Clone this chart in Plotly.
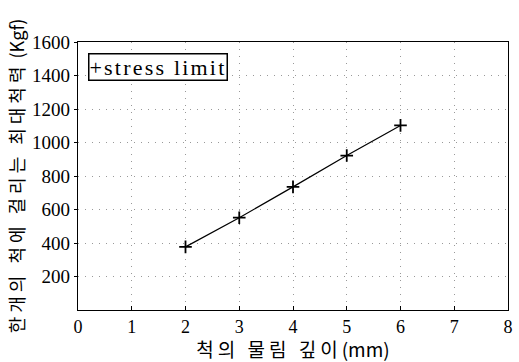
import plotly.graph_objects as go

depth_mm = [2, 3, 4, 5, 6]
max_force_kgf = [377, 551, 735, 922, 1102]
x_ticks = [0, 1, 2, 3, 4, 5, 6, 7, 8]
y_ticks = [200, 400, 600, 800, 1000, 1200, 1400, 1600]
series_name = "stress limit"
x_title_kr, x_title_unit = "척의 물림 깊이", "(mm)"
y_title_kr, y_title_unit = "한개의 척에 걸리는 최대척력", " (Kgf)"

serif = "Liberation Serif, Times New Roman, DejaVu Serif, serif"
kr = "Noto Sans CJK KR, sans-serif"


def spaced(text, px):
    return '<span style="letter-spacing:%spx">%s</span>' % (px, text)


fig = go.Figure()
fig.add_trace(go.Scatter(
    x=depth_mm, y=max_force_kgf, mode="lines+markers", name=series_name,
    line=dict(color="black", width=1.2),
    marker=dict(symbol="cross-thin", size=9, line=dict(color="black", width=1.8)),
    showlegend=False,
))

fig.add_annotation(
    xref="paper", yref="paper", x=0.023, y=0.96, xanchor="left", yanchor="top",
    text=spaced("+" + series_name, 2.2), showarrow=False,
    font=dict(family=serif, size=22, color="black"),
    bordercolor="black", borderwidth=1.5, borderpad=0, bgcolor="white",
)

fig.update_layout(
    width=519, height=362,
    margin=dict(l=78, r=6, t=42, b=52),
    paper_bgcolor="white", plot_bgcolor="white",
    xaxis=dict(
        range=[0, 8], tickvals=x_ticks, ticktext=[str(v) for v in x_ticks],
        showline=True, linecolor="black", linewidth=1.3, mirror=True,
        ticks="inside", ticklen=4, tickcolor="black",
        showgrid=True, gridcolor="#999999", griddash="1px,6px", gridwidth=1,
        zeroline=False,
        tickfont=dict(family=serif, size=18, color="black"),
        title=dict(text=spaced(x_title_kr, 4) + x_title_unit,
                   font=dict(family=kr, size=19, color="black"), standoff=0),
    ),
    yaxis=dict(
        range=[0, 1600], tickvals=y_ticks, ticktext=[str(v) for v in y_ticks],
        showline=True, linecolor="black", linewidth=1.3, mirror=True,
        ticks="outside", ticklen=3, tickcolor="black",
        showgrid=True, gridcolor="#999999", griddash="1px,6px", gridwidth=1,
        zeroline=False,
        tickfont=dict(family=serif, size=19, color="black"),
        title=dict(text=spaced(y_title_kr, 4) + y_title_unit,
                   font=dict(family=kr, size=18, color="black"), standoff=2),
    ),
)

fig.write_html("out.html")
